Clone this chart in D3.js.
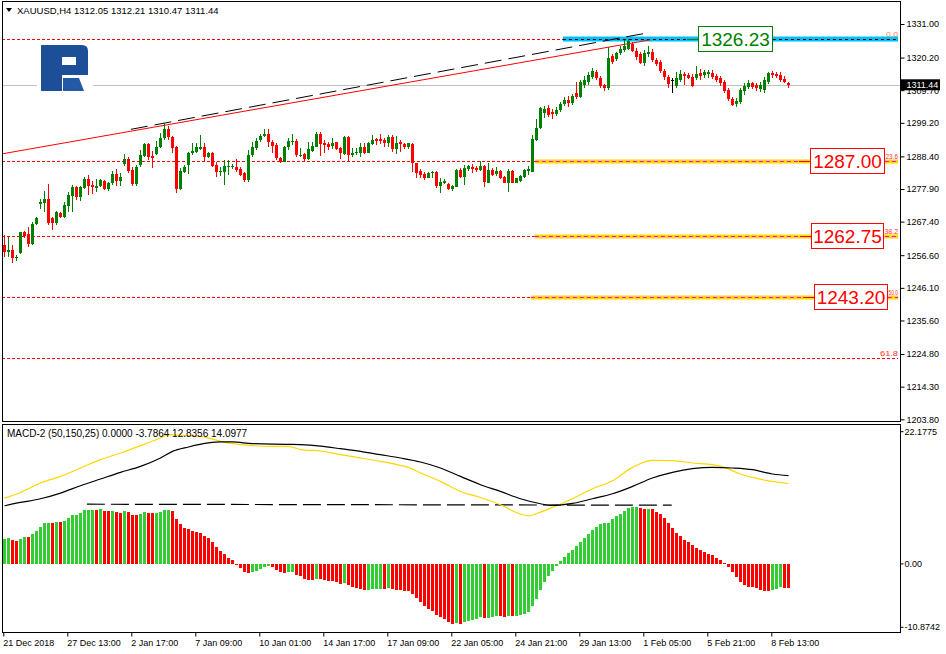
<!DOCTYPE html>
<html><head><meta charset="utf-8">
<script src="https://cdn.jsdelivr.net/npm/d3@7"></script>
<style>body{margin:0;background:#fff}svg{display:block}text{font-family:"Liberation Sans",Arial,sans-serif}</style>
</head><body><svg id="c" width="946" height="654"></svg>
<script>
// ---------- DATA ----------
const openP=[1259.89,1257.75,1258.29,1255.60,1257.43,1263.97,1263.43,1260.22,1266.54,1272.98,
1273.30,1274.69,1268.47,1266.87,1270.30,1268.80,1272.55,1275.77,1278.66,1275.45,
1278.13,1281.13,1279.20,1278.13,1278.98,1280.49,1277.81,1279.73,1282.74,1280.49,
1285.85,1287.56,1284.03,1279.52,1285.63,1288.64,1292.39,1288.53,1289.17,1291.32,
1294.21,1297.22,1294.75,1291.53,1277.91,1283.49,1285.63,1289.39,1289.92,1290.67,
1291.32,1288.31,1289.39,1285.63,1283.38,1283.49,1285.10,1285.10,1284.88,1284.24,
1282.95,1280.81,1288.85,1291.00,1293.68,1294.96,1295.61,1293.14,1292.07,1287.99,
1286.71,1291.32,1293.14,1293.36,1288.64,1289.07,1287.56,1290.25,1291.53,1295.61,
1292.82,1292.28,1291.85,1292.93,1291.21,1289.17,1294.75,1288.85,1289.39,1289.39,
1291.53,1289.60,1292.39,1293.89,1294.00,1293.68,1292.82,1294.75,1290.78,1292.93,
1292.39,1291.53,1292.39,1286.17,1283.70,1282.74,1281.56,1282.95,1283.49,1278.98,
1279.95,1279.52,1277.81,1278.66,1284.03,1281.88,1284.24,1285.10,1284.78,1284.03,
1285.42,1279.95,1284.03,1282.63,1283.70,1281.88,1279.95,1283.70,1279.95,1280.49,
1281.88,1283.81,1283.49,1293.68,1297.54,1302.36,1303.97,1302.69,1302.04,1303.33,
1305.26,1306.55,1305.58,1308.80,1307.51,1311.37,1312.34,1313.95,1315.56,1313.63,
1311.37,1310.41,1320.70,1319.74,1321.67,1322.63,1322.96,1324.56,1322.31,1321.35,
1318.45,1321.35,1321.99,1319.42,1318.77,1315.88,1313.95,1312.98,1311.05,1312.98,
1314.91,1314.59,1313.95,1313.63,1315.23,1314.59,1314.91,1315.23,1314.27,1313.63,
1312.34,1309.76,1306.87,1305.26,1305.90,1309.44,1310.73,1312.02,1311.37,1310.09,
1309.76,1312.34,1315.23,1314.91,1314.59,1313.30,1312.05];
const highP=[1263.11,1262.58,1259.89,1256.68,1264.18,1264.51,1265.79,1267.40,1269.01,1274.59,
1277.38,1279.52,1269.01,1270.83,1270.51,1273.84,1277.05,1279.20,1278.88,1278.88,
1281.88,1282.42,1280.59,1281.13,1281.13,1280.81,1280.27,1283.81,1284.24,1282.95,
1289.17,1288.31,1284.88,1285.63,1290.46,1292.82,1292.82,1290.25,1293.46,1296.04,
1299.04,1298.18,1294.96,1291.75,1284.56,1285.63,1289.92,1292.61,1292.61,1295.29,
1292.61,1289.92,1289.92,1286.71,1285.10,1287.24,1287.24,1285.96,1287.46,1284.88,
1283.49,1290.46,1293.14,1294.21,1295.61,1297.22,1297.11,1293.68,1292.61,1288.31,
1291.75,1294.21,1295.61,1293.89,1291.00,1289.39,1292.93,1293.14,1296.36,1296.36,
1293.68,1293.14,1294.21,1293.14,1291.53,1294.96,1294.96,1291.00,1291.00,1292.61,
1292.82,1293.14,1295.29,1294.43,1295.61,1294.21,1295.29,1295.29,1294.96,1293.68,
1292.61,1292.82,1292.61,1286.38,1284.24,1283.27,1283.49,1283.60,1283.81,1281.34,
1281.02,1279.73,1279.20,1284.24,1284.78,1285.63,1285.63,1285.96,1285.31,1287.03,
1285.63,1286.38,1284.56,1285.10,1284.03,1282.09,1284.24,1284.03,1281.56,1282.42,
1284.24,1285.31,1295.29,1300.43,1304.29,1304.62,1304.94,1303.65,1304.29,1305.90,
1307.51,1307.83,1308.48,1312.34,1312.98,1314.27,1315.56,1316.84,1316.20,1314.27,
1311.69,1323.60,1321.35,1321.99,1323.92,1325.85,1326.23,1325.21,1323.28,1321.99,
1322.63,1323.92,1322.96,1320.06,1319.42,1316.52,1314.59,1313.63,1315.56,1316.20,
1315.56,1315.23,1314.91,1317.49,1316.52,1316.20,1316.20,1316.20,1314.91,1314.27,
1312.98,1310.41,1307.51,1307.19,1310.41,1312.02,1312.98,1312.34,1312.02,1312.34,
1313.95,1315.56,1315.88,1315.56,1315.56,1314.27,1312.21];
const lowP=[1256.14,1256.14,1253.99,1254.85,1257.00,1262.04,1259.36,1259.89,1266.33,1271.37,
1270.62,1266.33,1264.72,1266.33,1268.47,1268.47,1270.62,1270.62,1274.37,1274.16,
1277.91,1275.98,1276.30,1277.05,1278.45,1277.59,1277.38,1279.20,1278.88,1278.88,
1285.31,1282.95,1278.88,1278.88,1284.88,1288.31,1287.24,1284.78,1288.85,1291.00,
1293.68,1293.68,1289.60,1276.73,1277.59,1282.95,1282.74,1288.74,1289.39,1290.46,
1286.49,1287.78,1285.10,1281.88,1282.09,1279.31,1282.42,1284.24,1283.49,1282.09,
1280.27,1280.27,1288.31,1290.46,1293.14,1294.75,1291.53,1289.39,1287.24,1286.17,
1286.49,1290.46,1292.07,1288.31,1288.31,1287.03,1287.24,1289.92,1291.32,1288.53,
1289.39,1290.46,1290.67,1290.46,1287.46,1288.85,1286.71,1288.31,1288.85,1288.31,
1289.17,1289.39,1292.07,1292.07,1292.39,1291.53,1291.53,1289.71,1289.07,1289.92,
1290.78,1290.78,1283.49,1281.34,1281.56,1280.81,1281.34,1281.34,1278.13,1276.73,
1279.52,1277.59,1277.38,1278.45,1281.56,1279.20,1283.81,1283.17,1283.49,1283.70,
1278.66,1279.73,1282.09,1282.20,1281.13,1279.73,1276.84,1279.73,1279.73,1280.27,
1281.56,1282.42,1283.27,1293.36,1297.22,1300.76,1301.08,1300.43,1301.40,1302.69,
1304.62,1304.29,1304.94,1306.87,1307.19,1310.41,1311.37,1313.30,1312.98,1310.41,
1309.44,1309.76,1318.13,1319.10,1321.03,1321.99,1322.63,1321.99,1319.42,1318.13,
1317.49,1320.38,1318.77,1317.49,1315.23,1312.98,1310.41,1308.80,1310.41,1312.34,
1311.37,1313.30,1310.73,1312.98,1312.98,1313.63,1313.63,1313.30,1312.34,1311.05,
1308.80,1306.23,1304.62,1304.29,1305.26,1308.16,1310.09,1310.09,1309.44,1309.12,
1308.80,1311.69,1313.63,1313.63,1312.34,1312.02,1310.47];
const closeP=[1257.75,1258.29,1255.60,1256.14,1263.97,1262.90,1260.22,1266.65,1268.69,1273.73,
1274.69,1266.87,1266.87,1270.62,1268.80,1272.76,1275.98,1278.66,1275.45,1278.45,
1281.13,1278.98,1278.45,1278.88,1280.81,1277.91,1279.95,1282.74,1280.49,1281.88,
1287.56,1283.81,1279.52,1284.88,1288.85,1292.39,1288.31,1287.78,1291.53,1294.43,
1297.22,1294.54,1291.21,1277.91,1283.81,1285.10,1289.60,1290.25,1291.32,1291.32,
1288.31,1289.60,1285.42,1283.49,1283.81,1285.42,1285.31,1285.42,1284.03,1282.42,
1280.81,1288.85,1291.32,1293.46,1295.07,1295.61,1293.14,1291.85,1287.78,1286.71,
1291.53,1293.36,1293.36,1288.85,1288.85,1287.56,1290.67,1291.75,1295.61,1292.28,
1292.07,1291.53,1292.61,1290.78,1289.39,1294.75,1288.85,1289.60,1289.92,1291.53,
1289.60,1292.82,1293.68,1293.46,1293.46,1292.82,1294.54,1290.78,1292.82,1292.39,
1291.53,1292.61,1286.17,1283.17,1282.42,1281.34,1282.95,1283.38,1278.98,1280.06,
1280.59,1277.91,1278.88,1284.03,1281.88,1284.56,1285.31,1284.35,1284.03,1285.42,
1280.06,1284.03,1282.42,1283.70,1281.34,1279.95,1283.70,1279.95,1281.34,1282.20,
1284.03,1284.24,1294.00,1297.54,1303.97,1303.65,1301.72,1302.04,1303.33,1305.26,
1306.55,1305.58,1307.83,1307.51,1312.34,1312.98,1314.59,1315.88,1313.63,1311.05,
1310.41,1320.06,1318.77,1321.67,1322.96,1323.92,1325.53,1322.31,1320.38,1318.45,
1321.67,1321.99,1319.42,1318.13,1315.88,1313.95,1311.69,1312.98,1313.63,1314.91,
1314.27,1313.63,1311.05,1314.91,1314.27,1315.56,1315.56,1313.95,1312.98,1312.02,
1309.44,1306.87,1304.94,1306.23,1309.76,1311.05,1312.02,1310.73,1310.41,1311.37,
1312.98,1315.23,1314.59,1314.27,1312.98,1312.34,1311.44];

const histVals=[4.05,4.06,3.84,3.68,4.05,4.32,4.30,4.80,5.28,5.92,
6.56,6.58,6.54,6.72,6.70,6.88,7.36,7.84,7.86,8.16,
8.64,8.66,8.68,8.65,8.80,8.48,8.46,8.50,8.32,8.16,
8.48,8.32,7.84,7.82,8.00,8.32,8.16,8.14,8.18,8.32,
8.64,8.66,8.48,7.20,6.40,5.76,5.60,5.28,5.12,4.96,
4.48,4.16,3.52,2.72,2.08,1.60,0.96,0.64,-0.16,-0.59,
-1.23,-1.39,-1.23,-1.07,-0.75,-0.43,-0.41,-0.44,-0.91,-1.23,
-1.39,-1.37,-1.23,-1.71,-1.87,-2.35,-2.51,-2.53,-2.35,-2.40,
-2.51,-2.67,-2.72,-2.88,-3.20,-3.04,-3.36,-3.68,-3.84,-4.00,
-4.16,-4.14,-4.00,-3.98,-3.96,-4.00,-3.84,-4.00,-4.16,-4.18,
-4.32,-4.34,-4.80,-5.44,-6.08,-6.72,-7.20,-7.52,-8.16,-8.48,
-8.80,-9.28,-9.60,-9.44,-9.62,-9.28,-9.12,-8.96,-8.80,-8.48,
-8.64,-8.62,-8.48,-8.32,-8.34,-8.48,-8.32,-8.34,-8.30,-8.16,
-8.00,-7.68,-6.72,-5.60,-4.16,-2.88,-1.92,-1.12,-0.32,0.48,
1.12,1.76,2.24,2.88,3.52,4.16,4.80,5.44,5.92,6.40,
6.56,6.58,7.20,7.68,8.00,8.48,8.96,9.12,9.14,8.96,
8.80,8.82,8.78,8.32,8.00,7.36,6.56,5.76,4.96,4.48,
3.84,3.52,3.04,2.56,2.24,1.92,1.60,1.44,0.96,0.64,
0.16,-0.48,-1.28,-2.08,-2.88,-3.36,-3.68,-3.70,-3.84,-4.16,
-4.32,-4.34,-4.10,-3.94,-3.76,-3.78,-3.79];

const mainIdx=[0,4,9,14,19,24,29,34,39,42,46,51,54,57,62,71,74,79,84,89,94,99,104,109,114,119,124,129,134,137,142,147,152,157,162,167,172,177,182,187,192,196];
const mainVals=[9.28,9.81,10.40,11.31,12.48,13.55,14.61,15.57,16.91,17.97,18.67,19.31,19.47,19.47,19.20,19.09,19.04,18.80,18.40,17.97,17.44,16.91,16.27,15.31,13.97,12.64,11.57,10.40,9.60,9.33,9.65,10.40,11.20,12.37,13.71,14.61,15.20,15.41,15.31,15.04,14.35,14.10];
const sigIdx=[0,4,9,14,19,24,29,34,39,41,44,49,54,57,62,67,71,74,79,84,89,94,99,101,104,109,114,119,124,129,131,134,137,142,147,152,157,162,167,172,177,180,184,187,192,196];
const sigVals=[10.51,11.41,12.91,13.97,15.31,16.64,17.71,18.88,20.11,20.64,20.53,20.37,19.57,19.20,18.88,18.77,18.77,18.24,18.03,17.44,16.91,16.37,15.73,15.41,14.51,13.17,11.57,10.61,9.44,7.95,7.68,8.27,9.01,10.40,12.00,13.28,15.41,16.53,16.48,16.11,15.84,15.41,14.35,13.81,13.17,12.84];

const priceTicks=[1331.00,1320.20,1309.70,1299.20,1288.40,1277.90,1267.40,1256.60,1246.10,1235.60,1224.80,1214.30,1203.80];
const macdTicks=[22.1775,0,-10.8742];
const macdTickLabels=["22.1775","0.00","-10.8742"];
const timeTickIdx=[0,16,32,48,64,80,96,112,128,144,160,176,192];
const timeTickLabels=["21 Dec 2018","27 Dec 13:00","2 Jan 17:00","7 Jan 09:00","10 Jan 01:00","14 Jan 17:00","17 Jan 09:00","22 Jan 05:00","24 Jan 21:00","29 Jan 13:00","1 Feb 05:00","5 Feb 21:00","8 Feb 13:00"];

const fibPrices=[1326.23,1287.00,1262.75,1243.20,1223.50];
const fibLabels=["0.0","23.6","38.2","50.0","61.8"];
const levelPrices=[1326.23,1287.00,1262.75,1243.20];
const levelStartIdx=[139.6,132.6,132.6,131.6];
const levelText=["1326.23","1287.00","1262.75","1243.20"];
const redTrendIdx=[-1.1,161.4], redTrendPrice=[1289.1,1325.9];
const dashTrendIdx=[31.6,161.4], dashTrendPrice=[1297.1,1328.3];
const macdLevelIdx=[20.6,166.8], macdLevelVals=[9.53,9.37];
const lastPrice=1311.44;
const titleText="XAUUSD,H4  1312.05 1312.21 1310.47 1311.44";
const macdTitle="MACD-2 (50,150,25) 0.0000 -3.7864 12.8356 14.0977";

// ---------- SCALES ----------
const N=closeP.length;
const svg=d3.select("#c");
const x=d3.scaleLinear().domain([0,N-1]).range([4.5,4.5+4*(N-1)]);
const xTick=d3.scaleLinear().domain([0,N-1]).range([3.3,3.3+4*(N-1)]);
const y=d3.scaleLinear().domain([1203.8,1331]).range([419.3,24]);
const yM=d3.scaleLinear().domain([-10.8742,22.1775]).range([632,425]);
const GREEN="#008000",RED="#ff0000";

const defs=svg.append("defs");
defs.append("clipPath").attr("id","cm").append("rect").attr("x",3).attr("y",2).attr("width",897).attr("height",419);
defs.append("clipPath").attr("id","cd").append("rect").attr("x",3).attr("y",425).attr("width",897).attr("height",207);

const main=svg.append("g").attr("clip-path","url(#cm)");

// current price gray line
main.append("line").attr("x1",2).attr("x2",900).attr("y1",Math.round(y(lastPrice))+0.5).attr("y2",Math.round(y(lastPrice))+0.5)
  .attr("stroke","#c0c0c0").attr("stroke-width",1);

// logo
const logo=main.append("g");
logo.append("rect").attr("x",37).attr("y",43).attr("width",56).attr("height",50).attr("fill","#fff");
logo.append("path").attr("d","M41,45 H82 Q88,45 88,51 V75 H62 V91 H41 Z M62,57 H76 V65 H62 Z")
  .attr("fill","#1d4f98").attr("fill-rule","evenodd");
logo.append("path").attr("d","M63,78 H79 L84,91 H63 Z").attr("fill","#245aa5");

// fib dashed lines
main.selectAll("line.fib").data(fibPrices).join("line").attr("class","fib")
  .attr("x1",2).attr("x2",898).attr("y1",d=>Math.round(y(d))+0.5).attr("y2",d=>Math.round(y(d))+0.5)
  .attr("stroke","#ff0000").attr("stroke-width",1).attr("stroke-dasharray","3,2");
// fib labels: the ones partly behind label boxes are squeezed into the visible gap
const fibLabelLeft=[886,885.5,884.5,888.5,880];
main.selectAll("text.fibl").data(fibPrices).join("text").attr("class","fibl")
  .attr("x",(d,i)=>fibLabelLeft[i]).attr("y",d=>y(d)-2).attr("font-size",8)
  .attr("textLength",(d,i)=>898-fibLabelLeft[i]).attr("lengthAdjust","spacingAndGlyphs")
  .attr("fill",(d,i)=>i===0?"#ff7f50":"#ff3030").text((d,i)=>fibLabels[i]);

// level bands
levelPrices.forEach((p,k)=>{
  const yy=Math.round(y(p));
  const x0=x(levelStartIdx[k]);
  if(k===0){
    main.append("rect").attr("x",x0).attr("y",yy-2.5).attr("width",898-x0).attr("height",5).attr("fill","#00bfff");
    main.append("line").attr("x1",x0).attr("x2",898).attr("y1",yy+0.5).attr("y2",yy+0.5).attr("stroke","#000").attr("stroke-dasharray","3,3");
  } else {
    main.append("rect").attr("x",x0).attr("y",yy-1.5).attr("width",898-x0).attr("height",4).attr("fill","#ffd700");
    main.append("line").attr("x1",x0).attr("x2",898).attr("y1",yy+0.5).attr("y2",yy+0.5).attr("stroke","#ff00ff").attr("stroke-dasharray","4,3");
  }
});

// trend lines
main.append("line").attr("x1",x(redTrendIdx[0])).attr("y1",y(redTrendPrice[0])).attr("x2",x(redTrendIdx[1])).attr("y2",y(redTrendPrice[1]))
  .attr("stroke","#ff0000").attr("stroke-width",1);
main.append("line").attr("x1",x(dashTrendIdx[0])).attr("y1",y(dashTrendPrice[0])).attr("x2",x(dashTrendIdx[1])).attr("y2",y(dashTrendPrice[1]))
  .attr("stroke","#000").attr("stroke-width",1).attr("stroke-dasharray","17,7");

// candles
const candles=d3.range(N).map(i=>({i,o:openP[i],h:highP[i],l:lowP[i],c:closeP[i]}));
const col=d=>d.c>d.o?GREEN:(d.c<d.o?RED:"#000");
const cg=main.append("g").attr("shape-rendering","crispEdges");
cg.selectAll("rect.w").data(candles).join("rect").attr("class","w")
  .attr("x",d=>x(d.i)-0.5).attr("width",1).attr("y",d=>y(d.h)).attr("height",d=>Math.max(1,y(d.l)-y(d.h))).attr("fill",col);
cg.selectAll("rect.b").data(candles).join("rect").attr("class","b")
  .attr("x",d=>x(d.i)-1.5).attr("width",3).attr("y",d=>Math.min(y(d.o),y(d.c)))
  .attr("height",d=>Math.max(1,Math.abs(y(d.o)-y(d.c)))).attr("fill",col);

// label boxes
const boxX=[698,810,811,814], boxW=[74,74,72,73];
levelPrices.forEach((p,k)=>{
  const yy=y(p), c=k===0?GREEN:RED;
  main.append("line").attr("x1",boxX[k]-11).attr("x2",boxX[k]).attr("y1",Math.round(yy)+0.5).attr("y2",Math.round(yy)+0.5).attr("stroke",c);
  main.append("rect").attr("x",boxX[k]+0.5).attr("y",Math.round(yy)-12.5).attr("width",boxW[k]).attr("height",25)
    .attr("fill","#fff").attr("stroke",c).attr("stroke-width",1);
  main.append("text").attr("x",boxX[k]+boxW[k]/2+0.5).attr("y",yy+7).attr("text-anchor","middle").attr("font-size",19).attr("fill",c)
    .text(levelText[k]);
});

// title
svg.append("path").attr("d","M6,8 L12,8 L9,12 Z").attr("fill","#000");
svg.append("text").attr("x",17).attr("y",14).attr("font-size",9.5).attr("fill","#000").text(titleText);

// frames
svg.append("rect").attr("x",2.5).attr("y",1.5).attr("width",898).attr("height",420).attr("fill","none").attr("stroke","#000");
svg.append("rect").attr("x",2.5).attr("y",424.5).attr("width",898).attr("height",208).attr("fill","none").attr("stroke","#000");

// price axis
const pa=svg.append("g").attr("transform","translate(900.5,0)")
  .call(d3.axisRight(y).tickValues(priceTicks).tickFormat(d3.format(".2f")).tickSize(4).tickPadding(2));
pa.select(".domain").remove();
pa.selectAll("text").attr("font-family","Liberation Sans, Arial, sans-serif").attr("font-size",9).attr("fill","#000");
pa.selectAll("line").attr("stroke","#000");
// current price box
const lp=y(lastPrice);
svg.append("rect").attr("x",901).attr("y",lp-5.5).attr("width",39).attr("height",11).attr("fill","#000");
svg.append("text").attr("x",906.5).attr("y",lp+3.3).attr("font-size",9).attr("fill","#fff").text(lastPrice.toFixed(2));

// MACD panel
const md=svg.append("g").attr("clip-path","url(#cd)");
const hg=md.append("g").attr("shape-rendering","crispEdges");
hg.selectAll("rect").data(histVals).join("rect")
  .attr("x",(d,i)=>x(i)-1.5).attr("width",3)
  .attr("y",d=>Math.min(yM(0),yM(d))).attr("height",d=>Math.abs(yM(d)-yM(0)))
  .attr("fill",(d,i)=>i===0||d>histVals[i-1]?"#32cd32":"#ff0000");
md.append("line").attr("x1",x(macdLevelIdx[0])).attr("x2",x(macdLevelIdx[1])).attr("y1",yM(macdLevelVals[0])).attr("y2",yM(macdLevelVals[1]))
  .attr("stroke","#000").attr("stroke-width",1.2).attr("stroke-dasharray","18,6");
const ln=d3.line().x(d=>x(d[0])).y(d=>yM(d[1])).curve(d3.curveMonotoneX);
md.append("path").attr("d",ln(sigIdx.map((v,k)=>[v,sigVals[k]]))).attr("fill","none").attr("stroke","#ffd700").attr("stroke-width",1.2);
md.append("path").attr("d",ln(mainIdx.map((v,k)=>[v,mainVals[k]]))).attr("fill","none").attr("stroke","#000").attr("stroke-width",1.2);
svg.append("text").attr("x",7).attr("y",437).attr("font-size",10).attr("fill","#000").text(macdTitle);

const ma=svg.append("g").attr("transform","translate(900.5,0)")
  .call(d3.axisRight(yM).tickValues(macdTicks).tickFormat((d,i)=>macdTickLabels[i]).tickSize(3).tickPadding(1));
ma.select(".domain").remove();
ma.selectAll("text").attr("font-family","Liberation Sans, Arial, sans-serif").attr("font-size",9).attr("fill","#000");
ma.selectAll(".tick").attr("transform",(d,i)=>"translate(0,"+(yM(d)+(i===0?6.7:(i===2?-4.7:0)))+")");

// time axis
const ta=svg.append("g").attr("transform","translate(0,632.5)")
  .call(d3.axisBottom(xTick).tickValues(timeTickIdx).tickFormat((d,i)=>timeTickLabels[i]).tickSize(4).tickPadding(3));
ta.select(".domain").remove();
ta.selectAll("text").attr("font-family","Liberation Sans, Arial, sans-serif").attr("font-size",9).attr("fill","#000").attr("text-anchor","start").attr("x",-0.5);
ta.selectAll("line").attr("stroke","#000");
</script></body></html>
